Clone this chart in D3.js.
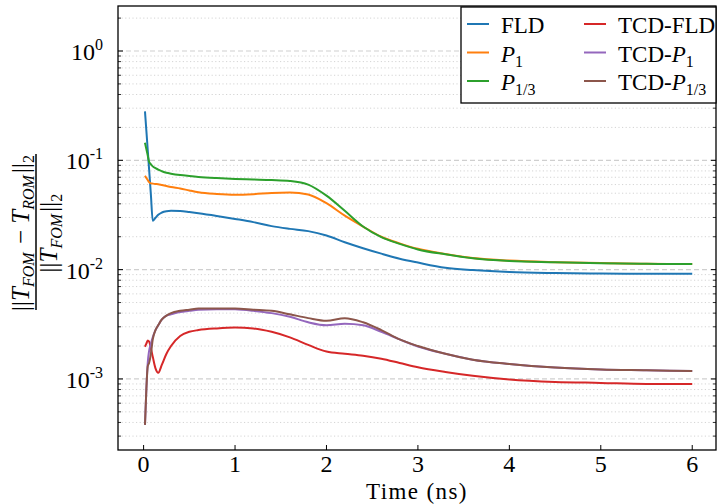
<!DOCTYPE html>
<html>
<head>
<meta charset="utf-8">
<script src="https://cdn.jsdelivr.net/npm/d3@7"></script>
<style>
  body { margin: 0; background: #fff; }
  svg { display: block; font-family: "Liberation Serif", "DejaVu Serif", serif; }
</style>
</head>
<body>
<div id="chart"></div>
<script>
// time grid (ns) and relative errors
const time = [0.015, 0.03, 0.045, 0.06, 0.08, 0.1, 0.13, 0.16, 0.2, 0.25, 0.3, 0.4, 0.5, 0.6, 0.8,
  1.0, 1.2, 1.4, 1.6, 1.8, 2.0, 2.2, 2.4, 2.6, 2.8, 3.0, 3.3, 3.6, 4.0, 4.5, 5.0, 5.5, 6.0];

const fld = [0.28, 0.188, 0.125, 0.083, 0.048, 0.028, 0.0298, 0.0318, 0.0333, 0.0342, 0.0345, 0.0343, 0.0336, 0.0328, 0.031,
  0.0291, 0.0272, 0.025, 0.0236, 0.0225, 0.0205, 0.0178, 0.0157, 0.014, 0.0126, 0.0116, 0.0104, 0.0099, 0.0095, 0.0093, 0.0092, 0.00917, 0.00915];

const p1 = [0.0723, 0.069, 0.066, 0.0632, 0.0615, 0.0612, 0.0608, 0.0605, 0.0595, 0.0582, 0.057, 0.0553, 0.053, 0.051, 0.0492,
  0.0484, 0.049, 0.0503, 0.0508, 0.0487, 0.0405, 0.0312, 0.0248, 0.02, 0.0174, 0.0155, 0.0139, 0.0128, 0.0121, 0.0117, 0.01148, 0.0113, 0.01128];

const p13 = [0.145, 0.127, 0.111, 0.097, 0.092, 0.088, 0.085, 0.082, 0.0795, 0.077, 0.0755, 0.0733, 0.0718, 0.0705, 0.0688,
  0.0676, 0.0668, 0.066, 0.0647, 0.06, 0.0475, 0.0345, 0.0248, 0.0198, 0.0172, 0.0153, 0.0138, 0.0127, 0.012, 0.0117, 0.01145, 0.0113, 0.01125];

const tcdFld = [0.00197, 0.0021, 0.00225, 0.0022, 0.0019, 0.0016, 0.00125, 0.00114, 0.00135, 0.0017, 0.002, 0.00247, 0.0027, 0.0028, 0.0029,
  0.00295, 0.0029, 0.0027, 0.0024, 0.00205, 0.00178, 0.0017, 0.00163, 0.00153, 0.0014, 0.00128, 0.00116, 0.00107, 0.00099, 0.00094, 0.00092, 0.0009, 0.0009];

const tcdP1 = [0.00038, 0.0008, 0.0014, 0.0018, 0.0021, 0.0024, 0.0028, 0.0031, 0.0035, 0.0038, 0.0039, 0.0041, 0.0042, 0.0043, 0.00435,
  0.00433, 0.0042, 0.004, 0.0037, 0.0033, 0.0031, 0.0032, 0.0031, 0.0027, 0.0023, 0.00198, 0.0017, 0.0015, 0.00137, 0.00127, 0.00122, 0.0012, 0.00118];

const tcdP13 = [0.00038, 0.0008, 0.0013, 0.0014, 0.0017, 0.0023, 0.0028, 0.0031, 0.0035, 0.0038, 0.004, 0.0042, 0.0043, 0.0044, 0.0044,
  0.0044, 0.0043, 0.0042, 0.0039, 0.0036, 0.0034, 0.0036, 0.0033, 0.0028, 0.0023, 0.002, 0.0017, 0.0015, 0.00137, 0.00127, 0.00122, 0.0012, 0.00118];

const xTicks = [0, 1, 2, 3, 4, 5, 6];
const yDecades = [0, -1, -2, -3];

const series = [
  { name: "FLD", values: fld, color: "#1f77b4", col: 0, row: 0 },
  { name: "P1", values: p1, color: "#ff7f0e", col: 0, row: 1 },
  { name: "P13", values: p13, color: "#2ca02c", col: 0, row: 2 },
  { name: "TCD-FLD", values: tcdFld, color: "#d62728", col: 1, row: 0 },
  { name: "TCD-P1", values: tcdP1, color: "#9467bd", col: 1, row: 1 },
  { name: "TCD-P13", values: tcdP13, color: "#8c564b", col: 1, row: 2 }
];

const W = 720, H = 504;
const mLeft = 118, mRight = 716, mTop = 6, mBottom = 450;

const svg = d3.select("#chart").append("svg")
  .attr("width", W)
  .attr("height", H);

const x = d3.scaleLinear().domain([-0.28, 6.26]).range([mLeft, mRight]);
const y = d3.scaleLog().domain([Math.pow(10, -3.65), Math.pow(10, 0.4117)]).range([mBottom, mTop]);

// grid lines
const minors = [];
for (let e = -4; e <= 0; e++) {
  for (let k = 2; k <= 9; k++) {
    const v = k * Math.pow(10, e);
    if (v > y.domain()[0] && v < y.domain()[1]) minors.push(v);
  }
}
svg.append("g").selectAll("line").data(minors).enter().append("line")
  .attr("x1", mLeft).attr("x2", mRight)
  .attr("y1", d => y(d)).attr("y2", d => y(d))
  .attr("stroke", "#d4d4d4").attr("stroke-width", 1)
  .attr("stroke-dasharray", "1.2,2.4");

svg.append("g").selectAll("line").data(yDecades).enter().append("line")
  .attr("x1", mLeft).attr("x2", mRight)
  .attr("y1", d => y(Math.pow(10, d))).attr("y2", d => y(Math.pow(10, d)))
  .attr("stroke", "#cfcfcf").attr("stroke-width", 1.2)
  .attr("stroke-dasharray", "5,3");

// curves
const line = d3.line()
  .x((d, i) => x(time[i]))
  .y(d => y(d))
  .curve(d3.curveMonotoneX);

svg.append("defs").append("clipPath").attr("id", "clip")
  .append("rect").attr("x", mLeft).attr("y", mTop).attr("width", mRight - mLeft).attr("height", mBottom - mTop);

svg.append("g").attr("clip-path", "url(#clip)")
  .selectAll("path").data(series).enter().append("path")
  .attr("d", d => line(d.values))
  .attr("fill", "none")
  .attr("stroke", d => d.color)
  .attr("stroke-width", 2);

// frame
svg.append("rect")
  .attr("x", mLeft).attr("y", mTop)
  .attr("width", mRight - mLeft).attr("height", mBottom - mTop)
  .attr("fill", "none").attr("stroke", "#000").attr("stroke-width", 1.3);

// ticks (inward)
const tickG = svg.append("g").attr("stroke", "#000");
xTicks.forEach(t => {
  tickG.append("line").attr("x1", x(t)).attr("x2", x(t)).attr("y1", mBottom).attr("y2", mBottom - 5).attr("stroke-width", 1);
});
yDecades.forEach(d => {
  const yy = y(Math.pow(10, d));
  tickG.append("line").attr("x1", mLeft).attr("x2", mLeft + 5).attr("y1", yy).attr("y2", yy).attr("stroke-width", 1);
  tickG.append("line").attr("x1", mRight).attr("x2", mRight - 5).attr("y1", yy).attr("y2", yy).attr("stroke-width", 1);
});
minors.forEach(v => {
  const yy = y(v);
  tickG.append("line").attr("x1", mLeft).attr("x2", mLeft + 3).attr("y1", yy).attr("y2", yy).attr("stroke-width", 0.8);
  tickG.append("line").attr("x1", mRight).attr("x2", mRight - 3).attr("y1", yy).attr("y2", yy).attr("stroke-width", 0.8);
});

// tick labels
svg.append("g").selectAll("text").data(xTicks).enter().append("text")
  .attr("x", d => x(d)).attr("y", 472)
  .attr("text-anchor", "middle")
  .attr("font-size", 24)
  .text(d => d);

const yl = svg.append("g").selectAll("text").data(yDecades).enter().append("text")
  .attr("x", 103).attr("y", d => y(Math.pow(10, d)) + 9)
  .attr("text-anchor", "end")
  .attr("font-size", 24);
yl.append("tspan").text("10");
yl.append("tspan").attr("font-size", 16).attr("dy", -10).text(d => d === 0 ? "0" : String(d));

// x label
svg.append("text")
  .attr("x", (mLeft + mRight) / 2).attr("y", 499)
  .attr("text-anchor", "middle")
  .attr("font-size", 23)
  .attr("letter-spacing", 1.4)
  .text("Time (ns)");

// y label as a fraction
const ylab = svg.append("g").attr("transform", "translate(0,232) rotate(-90)");

function addSub(sel, main, sub, italicMain, italicSub) {
  if (main) sel.append("tspan").attr("font-style", italicMain ? "italic" : null).text(main);
  sel.append("tspan").attr("font-size", 16).attr("dy", 5).attr("font-style", italicSub ? "italic" : null).text(sub);
  sel.append("tspan").attr("dy", -5).text("\u200a");
}

const num = ylab.append("text").attr("x", 0).attr("y", 29).attr("text-anchor", "middle").attr("font-size", 25);
num.append("tspan").text("||");
addSub(num, "T", "FOM", true, true);
num.append("tspan").text(" \u2212 ");
addSub(num, "T", "ROM", true, true);
num.append("tspan").text("||");
addSub(num, null, "2", false, false);

ylab.append("line").attr("x1", -78).attr("x2", 78).attr("y1", 36).attr("y2", 36)
  .attr("stroke", "#000").attr("stroke-width", 1.5);

const den = ylab.append("text").attr("x", 0).attr("y", 57).attr("text-anchor", "middle").attr("font-size", 25);
den.append("tspan").text("||");
addSub(den, "T", "FOM", true, true);
den.append("tspan").text("||");
addSub(den, null, "2", false, false);

// legend
const lg = svg.append("g");
lg.append("rect")
  .attr("x", 461).attr("y", 7).attr("width", 255).attr("height", 96)
  .attr("fill", "#fff").attr("stroke", "#000").attr("stroke-width", 1.3);

const colX = [467, 584];
const rowY = [24, 52.5, 81];
series.forEach(s => {
  const lx = colX[s.col], ly = rowY[s.row];
  lg.append("line").attr("x1", lx).attr("x2", lx + 22).attr("y1", ly).attr("y2", ly)
    .attr("stroke", s.color).attr("stroke-width", 2);
  const t = lg.append("text").attr("x", lx + 34).attr("y", ly + 9).attr("font-size", 23);
  let base = s.name;
  if (base.startsWith("TCD-")) {
    t.append("tspan").text("TCD-");
    base = base.slice(4);
  }
  if (base === "FLD") {
    t.append("tspan").text("FLD");
  } else {
    t.append("tspan").attr("font-style", "italic").text("P");
    t.append("tspan").attr("font-size", 16).attr("dy", 5).text(base === "P1" ? "1" : "1/3");
  }
});
</script>
</body>
</html>
